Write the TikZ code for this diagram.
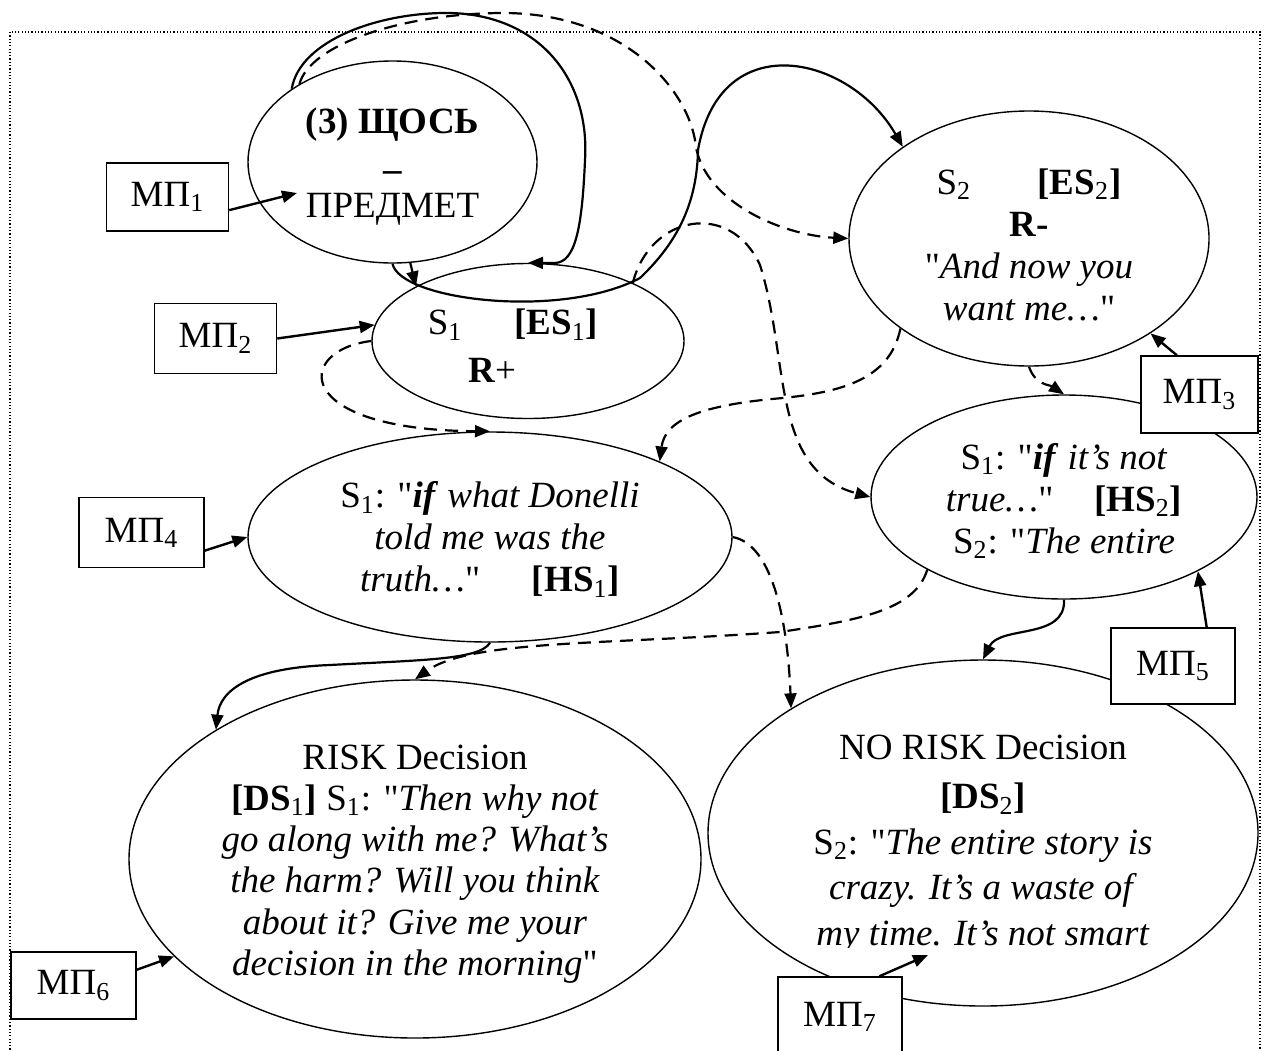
\documentclass[tikz,border=0pt]{standalone}
\usepackage{fontspec}
\setmainfont{Liberation Serif}[Ligatures=TeXOff]
\usetikzlibrary{shapes.geometric,arrows.meta}

\tikzset{
  ell/.style={draw, ellipse, line width=0.7pt, inner sep=0pt},
  txt/.style={align=center, inner sep=0pt},
  mpbox/.style={draw, fill=white, rectangle, line width=0.75pt, inner sep=0pt,
                minimum width=61pt, minimum height=35pt},
  link/.style={line width=1.1pt, -{Triangle[length=7.5pt,width=6pt]}},
  dlink/.style={link, dash pattern=on 6.5pt off 4pt},
  mparrow/.style={line width=1.2pt, -{Triangle[length=7.5pt,width=6pt]}},
  frameline/.style={line width=0.6pt, dash pattern=on 0.6pt off 1.05pt}
}
\newcommand{\sub}[1]{\textsubscript{\mdseries #1}}

\begin{document}
\begin{tikzpicture}[x=0.5pt, y=-0.5pt, font=\fontsize{18.5pt}{21pt}\selectfont]
\useasboundingbox (0,0) rectangle (1267,1050);
\clip (0,0) rectangle (1267,1050);
\fill[white] (0,0) rectangle (1267,1050);

% dotted page frame
\draw[frameline] (10,32) rectangle (1260,1100);

% states
\node[ell, minimum width=144.5pt, minimum height=101pt] (A) at (392.5,162) {};
\node[ell, minimum width=156pt, minimum height=77.5pt] (B) at (528,341) {};
\node[ell, minimum width=180pt, minimum height=127.5pt] (C) at (1029,238.5) {};
\node[ell, minimum width=242pt, minimum height=105pt] (D) at (490,537) {};
\node[ell, minimum width=193pt, minimum height=102pt] (E) at (1064,497) {};
\node[ell, minimum width=286pt, minimum height=179pt] (F) at (415,859) {};
\node[ell, minimum width=275pt, minimum height=173pt] (G) at (983,833) {};

% state texts
\node[txt] (At) at (392.5,166.5) {\textbf{(3) ЩОСЬ}\\\raisebox{-3pt}{\textbf{–}}\\ПРЕДМЕТ};
\node[txt] (Bt) at (528,346)
  {S\sub{1}\hspace{1.4em}\textbf{[ES\sub{1}]}\makebox[15pt]{}\\[3pt]\textbf{R}+\makebox[36pt]{}};
\node[txt] (Ct) at (1029,244.5)
  {S\sub{2}\hspace{1.8em}\textbf{[ES\sub{2}]}\\\textbf{R-}\\"\textit{And now you}\\\textit{want me\ldots}"};
\node[txt] (Dt) at (490,539.5)
  {S\sub{1}: "\textbf{\textit{if}} \textit{what Donelli}\\\textit{told me was the}\\\textit{truth\ldots}"\hspace{1.4em}\textbf{[HS\sub{1}]}};
\node[txt] (Et) at (1064,501)
  {S\sub{1}: "\textbf{\textit{if}} \textit{it’s not}\\\textit{true\ldots}"\hspace{1.1em}\textbf{[HS\sub{2}]}\\S\sub{2}: "\textit{The entire}};
\node[txt, font=\fontsize{18.5pt}{20.6pt}\selectfont] (Ft) at (415,864)
  {RISK Decision\\\textbf{[DS\sub{1}]} S\sub{1}: "\textit{Then why not}\\\textit{go along with me? What’s}\\\textit{the harm? Will you think}\\\textit{about it? Give me your}\\\textit{decision in the morning}"};
\begin{scope}
  \clip (700,600) rectangle (1267,947);
  \node[txt, font=\fontsize{18.5pt}{22.75pt}\selectfont] (Gt) at (983,844)
    {NO RISK Decision\\[2pt]\textbf{[DS\sub{2}]}\\S\sub{2}: "\textit{The entire story is}\\\textit{crazy. It’s a waste of}\\\textit{my time. It’s not smart}};
\end{scope}

% transitions between states
\draw[link] (A.280) -- (B.154);
\draw[link] (A.144) .. controls (300,40) and (380,12) .. (450,13)
  .. controls (540,15) and (590,80) .. (585,160)
  .. controls (582,230) and (575,262) .. (555,263) -- (B.north);
\draw[link] (A.south) .. controls (400,300) and (560,320) .. (640,278)
  .. controls (680,240) and (697,200) .. (698,150)
  .. controls (720,25) and (850,55) .. (C.144);
\draw[dlink] (A.140) .. controls (310,45) and (400,14) .. (500,13)
  .. controls (620,12) and (685,85) .. (695,140)
  .. controls (700,200) and (780,235) .. (C.west);
\draw[dlink] (B.29) .. controls (650,215) and (730,200) .. (760,265)
  .. controls (790,360) and (770,470) .. (E.west);
\draw[dlink] (B.west) .. controls (295,350) and (290,430) .. (D.north);
\draw[dlink] (C.215) .. controls (890,380) and (840,392) .. (783,398)
  .. controls (700,405) and (665,420) .. (D.24);
\draw[dlink] (C.south) .. controls (1035,385) and (1050,385) .. (E.north);
\draw[dlink] (D.east) .. controls (775,545) and (788,630) .. (G.147);
\draw[dlink] (E.208) .. controls (915,610) and (860,620) .. (780,632)
  .. controls (600,645) and (470,640) .. (F.north);
\draw[link] (D.south) .. controls (480,660) and (420,660) .. (330,665)
  .. controls (250,668) and (220,690) .. (F.147);
\draw[link] (E.south) .. controls (1066,640) and (1000,625) .. (G.north);

% МП markers
\node[mpbox, minimum height=34pt] (m1) at (167.5,197) {МП\sub{1}};
\node[mpbox] (m2) at (215.5,338.5) {МП\sub{2}};
\node[mpbox, minimum width=58.5pt, minimum height=38.5pt] (m3) at (1199.5,394.5) {МП\sub{3}};
\node[mpbox, minimum width=62.5pt] (m4) at (141.5,532.5) {МП\sub{4}};
\node[mpbox, minimum width=62pt, minimum height=38pt] (m5) at (1173,666) {МП\sub{5}};
\node[mpbox, minimum width=62.5pt, minimum height=33.5pt] (m6) at (73.5,985.5) {МП\sub{6}};
\node[mpbox, minimum width=62pt, minimum height=40pt] (m7) at (840,1017) {МП\sub{7}};

\coordinate (a1) at (297,193);
\coordinate (g1) at (928,955);
\draw[mparrow] (m1.-12) -- (a1);
\draw[mparrow] (m2.east) -- (B.174);
\draw[mparrow] (m3.120) -- (C.322);
\draw[mparrow] (m4.-16) -- (D.180);
\draw[mparrow] (m5.49) -- (E.331);
\draw[mparrow] (m6.14) -- (F.202);
\draw[mparrow] (m7.46) -- (g1);
\end{tikzpicture}
\end{document}
